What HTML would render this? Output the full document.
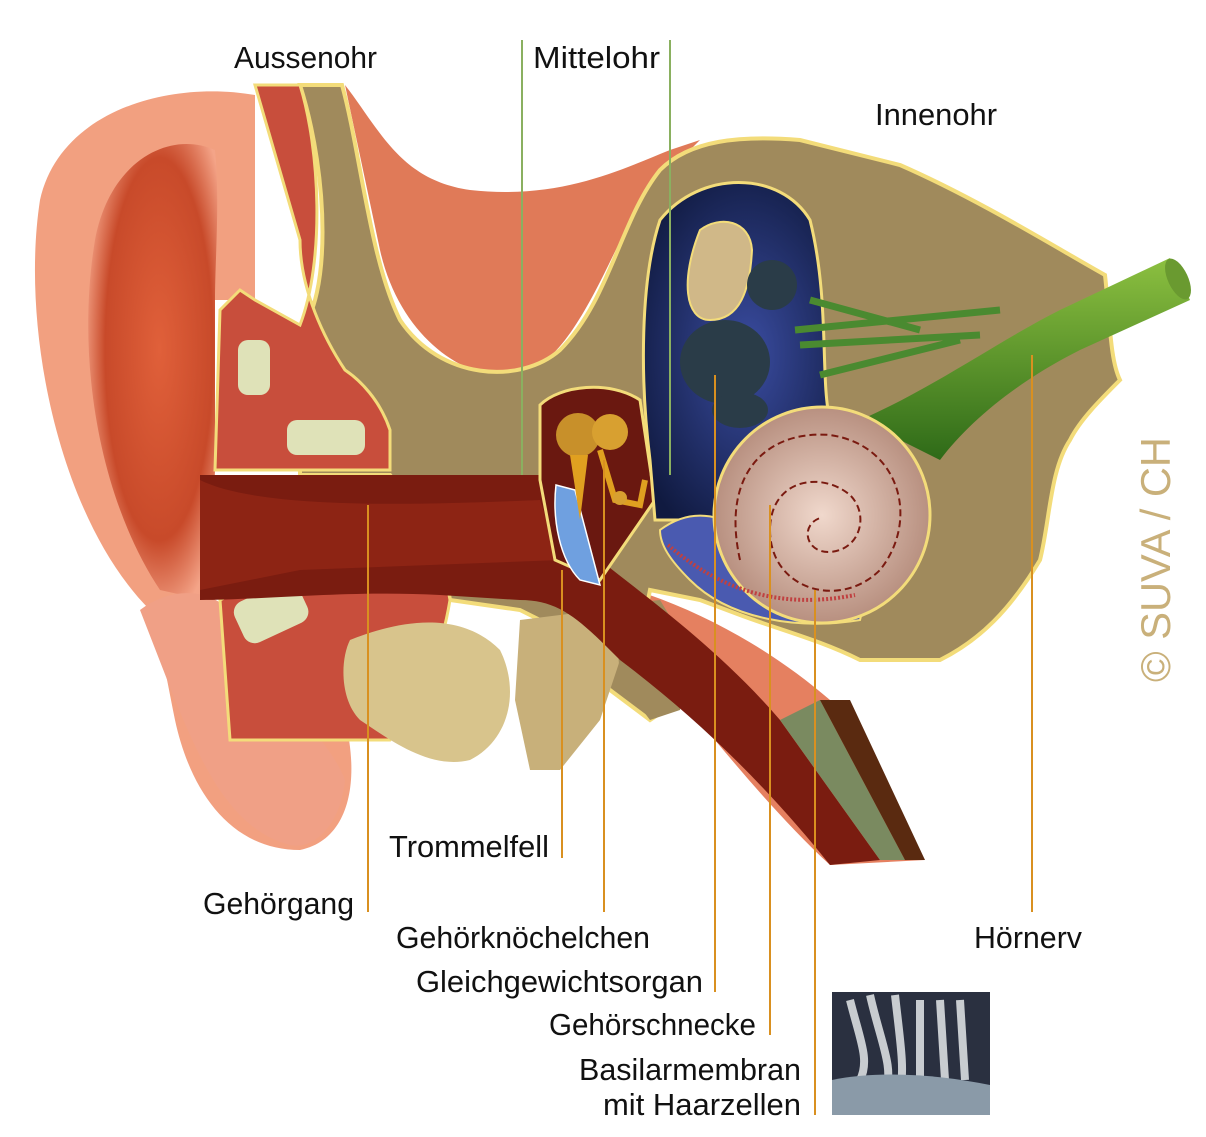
<!DOCTYPE html>
<html><head><meta charset="utf-8"><style>
html,body{margin:0;padding:0;background:#fff;}
svg{display:block}
text{font-family:"Liberation Sans Narrow","Liberation Sans",sans-serif;font-size:31px;fill:#111}
</style></head><body>
<svg width="1206" height="1137" viewBox="0 0 1206 1137" xmlns="http://www.w3.org/2000/svg">
<defs>
<radialGradient id="pin" cx="0.55" cy="0.45" r="0.6"><stop offset="0" stop-color="#e0603a"/><stop offset="0.7" stop-color="#c84a2a"/><stop offset="1" stop-color="#f4a488"/></radialGradient>
<radialGradient id="coch" cx="0.5" cy="0.5" r="0.5"><stop offset="0" stop-color="#f0d8cc"/><stop offset="1" stop-color="#b89080"/></radialGradient>
<linearGradient id="nerve" x1="0" y1="0" x2="0" y2="1"><stop offset="0" stop-color="#8cc040"/><stop offset="1" stop-color="#2e6a18"/></linearGradient>
<radialGradient id="blue" cx="0.5" cy="0.5" r="0.6"><stop offset="0" stop-color="#3a4ca0"/><stop offset="1" stop-color="#101a40"/></radialGradient>
</defs>
<!-- pinna -->
<path d="M150,610 C60,520 20,330 40,200 C60,110 170,80 255,95 L255,300 L215,300 L215,470 L210,600 C260,640 320,680 345,720 C360,780 350,840 300,850 C230,850 190,790 175,720 C165,670 160,640 150,610 Z" fill="#f2a080"/>
<path d="M160,590 C100,500 75,360 95,240 C110,160 170,130 215,150 C220,200 215,260 215,300 L215,470 L205,600 Z" fill="url(#pin)"/>
<path d="M140,610 C180,580 230,590 250,640 C280,700 330,740 345,780 C340,830 310,850 290,845 C230,830 200,760 175,700 Z" fill="#f0a086"/>
<!-- muscle / salmon region -->
<path d="M345,85 C380,130 400,180 470,190 C560,200 620,170 670,150 L700,140 L640,200 C600,280 570,360 520,375 C470,385 400,340 380,250 Z" fill="#e07a58"/>
<path d="M600,580 C680,600 760,640 830,700 L925,860 L830,865 C760,800 700,720 640,650 Z" fill="#e58060"/>
<!-- bone -->
<path d="M300,85 L342,85 C360,150 370,260 400,320 C440,380 520,385 560,350 C610,300 620,220 660,170 C690,140 740,135 800,140 L900,165 C980,200 1060,250 1105,275 C1110,320 1110,360 1120,380 C1100,400 1080,420 1070,440 C1050,470 1050,520 1040,560 C1010,610 980,640 940,660 L860,660 C820,640 780,630 740,615 L700,600 L650,590 L640,640 L680,700 L650,720 L610,690 L560,630 L520,610 L450,600 L440,545 L390,475 L300,475 L300,330 C330,300 330,180 300,85 Z" fill="#a08a5c" stroke="#f3dc7a" stroke-width="4"/>
<!-- ear cartilage red blocks -->
<path d="M255,85 L300,85 C320,150 325,260 300,325 L255,300 L240,290 L220,310 L215,470 L390,470 L390,430 C380,400 360,380 345,370 C325,340 300,290 300,240 Z" fill="#c84e3c" stroke="#f3dc7a" stroke-width="3"/>
<rect x="238" y="340" width="32" height="55" rx="10" fill="#dfe2b8"/>
<rect x="287" y="420" width="78" height="35" rx="10" fill="#dfe2b8"/>
<path d="M220,600 C280,570 340,545 440,545 L450,600 C440,660 420,700 390,740 L230,740 Z" fill="#c84e3c" stroke="#f3dc7a" stroke-width="3"/>
<rect x="236" y="590" width="70" height="45" rx="12" fill="#dfe2b8" transform="rotate(-25 270 612)"/>
<rect x="325" y="565" width="42" height="28" rx="10" fill="#dfe2b8"/>
<rect x="380" y="558" width="50" height="26" rx="10" fill="#dfe2b8"/>
<!-- lower tan bone pieces -->
<path d="M350,640 C400,620 460,610 500,650 C520,690 510,740 470,760 C430,770 390,740 360,720 C340,700 340,660 350,640 Z" fill="#d8c48c"/>
<path d="M520,620 L600,610 L620,660 L600,720 L560,770 L530,770 L515,700 Z" fill="#c8b07a"/>
<path d="M615,605 L660,600 L690,650 L680,710 L650,720 L620,680 Z" fill="#a08a5c"/>
<!-- canal -->
<path d="M200,475 L560,475 L600,560 C650,600 720,650 780,720 L880,860 L830,865 C770,790 700,720 620,660 C580,620 560,600 520,600 L440,595 C350,590 260,600 200,600 Z" fill="#7a1c10"/>
<path d="M200,480 C260,510 420,505 540,500 L560,560 L300,570 L200,590 Z" fill="#9a2a18" opacity="0.6"/>
<path d="M780,720 L880,860 L905,860 L820,700 Z" fill="#7a8a60"/>
<path d="M820,700 L905,860 L925,860 L850,700 Z" fill="#5a2a10"/>
<!-- middle ear cavity -->
<path d="M540,405 C560,385 610,380 640,400 L655,500 L600,580 L555,560 L540,480 Z" fill="#6a1810" stroke="#f3dc7a" stroke-width="3"/>
<path d="M556,485 L575,490 L600,585 L580,580 C560,560 552,520 556,485 Z" fill="#6fa0e0" stroke="#fff" stroke-width="1.5"/>
<circle cx="578" cy="435" r="22" fill="#c8902a"/><circle cx="610" cy="432" r="18" fill="#d8a030"/>
<path d="M570,455 L580,520 L588,455 Z" fill="#e0a020"/>
<path d="M600,450 L615,500 L640,505 L645,480" fill="none" stroke="#e0a020" stroke-width="6"/>
<circle cx="620" cy="498" r="7" fill="#d8a030"/>
<!-- inner ear blue -->
<path d="M660,220 C700,170 780,170 810,220 C830,300 820,380 830,420 C860,430 860,450 820,480 C780,520 720,530 690,520 L655,520 L650,460 C640,380 640,280 660,220 Z" fill="url(#blue)" stroke="#f3dc7a" stroke-width="3"/>
<path d="M700,230 C720,215 750,220 752,250 C750,290 740,320 710,320 C685,320 680,280 700,230 Z" fill="#d0b888" stroke="#f3dc7a" stroke-width="2"/>
<circle cx="772" cy="285" r="25" fill="#2a3c48"/>
<ellipse cx="725" cy="362" rx="45" ry="42" fill="#2a3c48"/>
<ellipse cx="740" cy="410" rx="28" ry="18" fill="#2a3c48"/>
<path d="M795,330 L1000,310 M800,345 L980,335 M820,375 L960,340 M810,300 L920,330" stroke="#4a8a30" stroke-width="7" fill="none"/>
<!-- nerve -->
<path d="M860,420 C930,390 1000,340 1060,310 L1170,258 L1190,300 L1080,350 C1020,380 970,420 940,460 Z" fill="url(#nerve)"/>
<ellipse cx="1178" cy="279" rx="10" ry="22" fill="#6a9a30" transform="rotate(-25 1178 279)"/>
<!-- cochlea -->
<path d="M660,530 C700,500 740,520 780,560 C820,600 860,590 870,580 L860,620 C800,630 730,620 690,580 C670,560 660,545 660,530 Z" fill="#4a5ab0" stroke="#f3dc7a" stroke-width="2"/>
<circle cx="822" cy="515" r="108" fill="url(#coch)" stroke="#f3dc7a" stroke-width="3"/>
<path d="M740,560 C720,470 770,430 830,435 C900,445 920,520 880,570 C840,610 770,590 770,530 C770,480 820,470 850,495 C870,515 860,550 830,552 C805,553 800,525 820,518" fill="none" stroke="#7a1a10" stroke-width="2" stroke-dasharray="7,4"/>
<path d="M668,545 C720,590 780,610 855,595" fill="none" stroke="#c04040" stroke-width="4" stroke-dasharray="2,2"/>
<!-- leader lines -->
<g stroke-width="2" fill="none">
<line x1="522" y1="40" x2="522" y2="475" stroke="#8ab060"/>
<line x1="670" y1="40" x2="670" y2="475" stroke="#8ab060"/>
<g stroke="#d99020">
<line x1="368" y1="505" x2="368" y2="912"/>
<line x1="562" y1="570" x2="562" y2="858"/>
<line x1="604" y1="460" x2="604" y2="912"/>
<line x1="715" y1="375" x2="715" y2="992"/>
<line x1="770" y1="505" x2="770" y2="1035"/>
<line x1="815" y1="590" x2="815" y2="1115"/>
<line x1="1032" y1="355" x2="1032" y2="912"/>
</g></g>
<!-- photo -->
<rect x="832" y="992" width="158" height="123" fill="#2a3040"/>
<path d="M850,1000 C860,1040 870,1060 860,1080 M870,995 C880,1040 895,1070 885,1090 M895,995 C900,1040 905,1070 900,1090 M920,1000 L920,1080 M940,1000 L945,1080 M960,1000 L965,1080" stroke="#c8ccd0" stroke-width="8" fill="none"/>
<path d="M832,1080 C880,1070 940,1075 990,1085 L990,1115 L832,1115 Z" fill="#8a9aa8"/>
<!-- labels -->
<text x="234" y="68" textLength="143" lengthAdjust="spacingAndGlyphs">Aussenohr</text>
<text x="533" y="68" textLength="127" lengthAdjust="spacingAndGlyphs">Mittelohr</text>
<text x="875" y="125" textLength="122" lengthAdjust="spacingAndGlyphs">Innenohr</text>
<text x="389" y="857" textLength="160" lengthAdjust="spacingAndGlyphs">Trommelfell</text>
<text x="203" y="914" textLength="151" lengthAdjust="spacingAndGlyphs">Gehörgang</text>
<text x="396" y="948" textLength="254" lengthAdjust="spacingAndGlyphs">Gehörknöchelchen</text>
<text x="416" y="992" textLength="287" lengthAdjust="spacingAndGlyphs">Gleichgewichtsorgan</text>
<text x="549" y="1035" textLength="207" lengthAdjust="spacingAndGlyphs">Gehörschnecke</text>
<text x="579" y="1080" textLength="222" lengthAdjust="spacingAndGlyphs">Basilarmembran</text>
<text x="603" y="1115" textLength="198" lengthAdjust="spacingAndGlyphs">mit Haarzellen</text>
<text x="974" y="948" textLength="108" lengthAdjust="spacingAndGlyphs">Hörnerv</text>
<text transform="translate(1170,682) rotate(-90)" style="font-size:42px;fill:#c9b07a" textLength="245" lengthAdjust="spacingAndGlyphs">© SUVA / CH</text>
</svg>
</body></html>
